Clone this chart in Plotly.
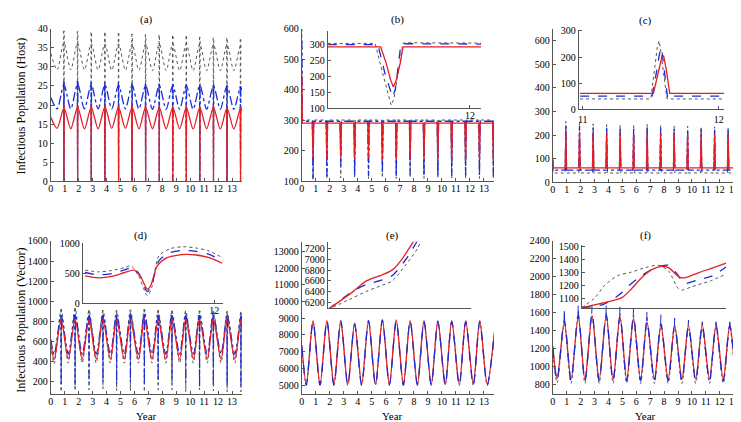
import plotly.graph_objects as go

# ---------------- data ----------------
# (a) host, seasonal model: extrema times (trough/peak) and values
a_x = [0.0, 0.45, 0.94, 1.43, 1.92, 2.41, 2.9, 3.39, 3.88, 4.37, 4.86, 5.35, 5.83, 6.32, 6.8,
       7.29, 7.78, 8.27, 8.75, 9.24, 9.72, 10.21, 10.69, 11.18, 11.67, 12.16, 12.64, 13.13, 13.61, 13.72]
a_red = [16.8, 13.9, 19.2, 13.8, 19.4, 13.8, 19.4, 13.8, 19.5, 13.9, 19.4, 13.9, 19.4, 13.8, 19.4,
         13.8, 19.3, 13.8, 19.3, 13.8, 19.3, 13.7, 19.3, 13.8, 19.3, 13.7, 19.2, 13.7, 19.1, 18.6]
a_blue = [22.0, 19.0, 25.3, 19.0, 25.5, 19.0, 25.3, 19.0, 25.3, 19.0, 25.2, 19.0, 25.2, 19.0, 25.1,
          18.9, 25.1, 18.9, 25.1, 18.9, 25.1, 18.9, 25.1, 18.9, 25.0, 18.9, 25.0, 18.9, 24.8, 24.0]
a_gray = [33.5, 29.2, 36.3, 29.2, 36.2, 29.2, 36.0, 29.2, 36.0, 29.1, 36.0, 29.1, 36.0, 29.1, 36.0,
          29.0, 36.0, 29.0, 36.0, 29.0, 36.0, 29.0, 36.0, 29.0, 35.8, 29.0, 35.8, 29.0, 35.6, 35.0]
a_spike_x = [0.94, 1.92, 2.9, 3.88, 4.86, 5.83, 6.8, 7.78, 8.75, 9.72, 10.69, 11.67, 12.64, 13.61]
a_red_spike_top = [19.8, 19.9, 19.8, 19.9, 19.8, 19.8, 19.7, 19.7, 19.7, 19.6, 19.6, 19.6, 19.5, 19.4]
a_blue_spike_top = [26.2, 26.3, 26.0, 25.9, 25.8, 25.7, 25.6, 25.5, 25.5, 25.4, 25.3, 25.3, 25.2, 25.0]
a_gray_spike_top = [39.4, 39.3, 39.0, 38.9, 38.8, 38.6, 38.5, 38.3, 38.1, 38.0, 37.8, 37.6, 37.5, 37.2]
a_spike_floor = 0.0

# (b) host
b_spike_x = [0.8, 1.79, 2.78, 3.77, 4.76, 5.75, 6.74, 7.73, 8.72, 9.71, 10.7, 11.69, 12.68, 13.67]
b_red_level, b_blue_level, b_gray_level = 291, 297, 301
b_red_start, b_blue_start, b_gray_start = 450, 560, 600
b_red_min = [175, 170, 180, 175, 178, 170, 172, 175, 170, 172, 170, 168, 170, 168]
b_blue_min = [110, 118, 150, 120, 118, 128, 115, 125, 118, 120, 118, 120, 122, 120]
b_gray_min = [105, 108, 112, 110, 110, 112, 110, 112, 110, 110, 112, 110, 110, 108]
b_in_red_x = [10.98, 11.36, 11.4, 11.43, 11.45, 11.47, 11.5, 11.52, 12.08]
b_in_red = [291, 291, 240, 190, 167, 185, 240, 291, 291]
b_in_blue_x = [10.98, 11.34, 11.39, 11.43, 11.445, 11.465, 11.49, 11.505, 11.55, 12.08]
b_in_blue = [298, 298, 210, 150, 135, 160, 240, 300, 301, 300]
b_in_gray_x = [10.98, 11.32, 11.38, 11.42, 11.435, 11.455, 11.49, 11.52, 11.56, 12.08]
b_in_gray = [302, 302, 200, 128, 110, 130, 230, 303, 304, 303]

# (c) host
c_spike_x = [0.94, 1.92, 2.9, 3.87, 4.84, 5.81, 6.78, 7.75, 8.72, 9.69, 10.66, 11.63, 12.6, 13.57]
c_red_level, c_blue_level, c_gray_level = 62, 52, 40
c_red_start, c_blue_start, c_gray_start = 100, 95, 85
c_red_top = [215, 212, 210, 208, 206, 206, 208, 206, 205, 205, 204, 203, 202, 200]
c_blue_top = [238, 240, 232, 228, 226, 228, 232, 228, 226, 225, 225, 223, 222, 220]
c_gray_top = [258, 254, 248, 245, 242, 240, 246, 243, 240, 238, 236, 235, 232, 230]
c_in_red_x = [10.98, 11.52, 11.555, 11.58, 11.595, 11.615, 11.64, 12.04]
c_in_red = [61, 61, 140, 195, 205, 150, 61, 61]
c_in_blue_x = [10.98, 11.51, 11.545, 11.568, 11.58, 11.6, 11.625, 11.66, 12.04]
c_in_blue = [51, 51, 150, 225, 235, 150, 40, 51, 51]
c_in_gray_x = [10.98, 11.5, 11.53, 11.55, 11.563, 11.59, 11.62, 12.04]
c_in_gray = [40, 40, 160, 245, 262, 150, 40, 40]

# (d) vector
d_x = [0.0, 0.24, 0.74, 1.25, 1.74, 2.25, 2.74, 3.26, 3.74, 4.27, 4.72, 5.27, 5.71, 6.28, 6.71,
       7.26, 7.7, 8.25, 8.69, 9.24, 9.68, 10.23, 10.67, 11.22, 11.66, 12.21, 12.65, 13.2, 13.64, 13.72]
d_red = [580, 420, 815, 425, 820, 425, 815, 425, 815, 425, 815, 425, 820, 425, 825,
         425, 820, 425, 820, 425, 820, 425, 820, 425, 820, 425, 815, 425, 815, 790]
d_blue = [620, 470, 860, 475, 870, 475, 860, 475, 860, 475, 860, 475, 865, 475, 870,
          475, 860, 475, 860, 475, 860, 475, 860, 475, 860, 475, 855, 475, 850, 820]
d_gray = [560, 380, 920, 385, 930, 385, 910, 385, 910, 385, 910, 385, 915, 385, 920,
          385, 910, 385, 905, 385, 905, 385, 905, 385, 900, 385, 900, 385, 895, 860]
d_blue_spike_min = [170, 160, 190, 200, 180, 200, 170, 210, 200, 190, 150, 160, 170, 150]
d_gray_spike_min = [100, 110, 120, 130, 110, 110, 100, 120, 120, 100, 120, 110, 100, 100]
d_in_red_x = [11.135, 11.226, 11.314, 11.401, 11.466, 11.51, 11.553, 11.575, 11.619, 11.684, 11.749, 11.815, 11.88, 11.967, 12.054]
d_in_red = [458, 425, 448, 514, 552, 431, 235, 293, 624, 762, 801, 818, 807, 762, 669]
d_in_blue_x = [11.135, 11.226, 11.314, 11.401, 11.455, 11.499, 11.553, 11.586, 11.629, 11.706, 11.793, 11.88, 11.967, 12.054]
d_in_blue = [514, 475, 497, 558, 597, 486, 193, 348, 707, 845, 884, 867, 818, 707]
d_in_gray_x = [11.135, 11.226, 11.314, 11.401, 11.444, 11.499, 11.553, 11.586, 11.629, 11.706, 11.793, 11.88, 11.967, 12.054]
d_in_gray = [552, 525, 547, 597, 624, 431, 127, 293, 790, 912, 945, 923, 873, 762]

# (e) vector
e_x = [0.0, 0.32, 0.8, 1.3, 1.79, 2.29, 2.78, 3.28, 3.77, 4.27, 4.76, 5.26, 5.75, 6.25, 6.74,
       7.25, 7.73, 8.25, 8.72, 9.24, 9.71, 10.24, 10.7, 11.24, 11.7, 12.24, 12.7, 13.23, 13.75]
e_red = [7400, 5050, 8850, 5050, 8850, 5050, 8800, 5050, 8700, 5050, 8850, 5050, 8900, 5050, 8900,
         5050, 8850, 5050, 8850, 5050, 8850, 5050, 8850, 5050, 8850, 5050, 8850, 5050, 8200]
e_blue = [7300, 5000, 8800, 5000, 8850, 5000, 8850, 5000, 8650, 5000, 8850, 5000, 8900, 5000, 8850,
          5000, 8850, 5000, 8800, 5000, 8800, 5000, 8800, 5000, 8800, 5000, 8800, 5000, 8150]
e_gray = [7200, 4980, 8780, 4980, 8800, 4980, 8800, 4980, 8700, 4980, 8800, 4980, 8850, 4980, 8850,
          4980, 8800, 4980, 8800, 4980, 8800, 4980, 8800, 4980, 8800, 4980, 8800, 4980, 8100]
e_in_red_x = [0.0, 0.174, 0.267, 0.382, 0.451, 0.521, 0.59, 0.62]
e_in_red = [6060, 6394, 6594, 6715, 6806, 7018, 7303, 7420]
e_in_blue_x = [0.0, 0.174, 0.267, 0.382, 0.451, 0.544, 0.614, 0.64]
e_in_blue = [6060, 6400, 6530, 6620, 6700, 7000, 7300, 7420]
e_in_gray_x = [0.0, 0.15, 0.267, 0.382, 0.451, 0.544, 0.625, 0.66]
e_in_gray = [6060, 6250, 6400, 6520, 6600, 6900, 7200, 7420]

# (f) vector
f_x = [0.0, 0.31, 0.83, 1.31, 1.83, 2.31, 2.82, 3.33, 3.84, 4.33, 4.83, 5.31, 5.8, 6.31, 6.77,
       7.3, 7.77, 8.29, 8.76, 9.28, 9.75, 10.27, 10.74, 11.26, 11.73, 12.25, 12.72, 13.24, 13.75]
f_red = [1230, 870, 1500, 860, 1560, 860, 1570, 860, 1570, 860, 1560, 860, 1540, 860, 1500,
         860, 1470, 860, 1460, 860, 1460, 860, 1470, 860, 1470, 860, 1470, 860, 1380]
f_blue = [1200, 850, 1520, 845, 1580, 845, 1590, 845, 1580, 845, 1570, 845, 1550, 845, 1510,
          845, 1480, 845, 1460, 845, 1450, 845, 1460, 845, 1460, 845, 1460, 845, 1360]
f_gray = [1150, 820, 1480, 815, 1540, 815, 1560, 815, 1560, 815, 1540, 815, 1520, 815, 1480,
          815, 1450, 815, 1430, 815, 1420, 815, 1430, 815, 1430, 815, 1430, 815, 1330]
f_blue_spike_top = [1660, 1700, 1690, 1690, 1680, 1660, 1630, 1580, 1540, 1520, 1500, 1500, 1500]
f_in_red_x = [0.0, 0.186, 0.278, 0.347, 0.416, 0.485, 0.554, 0.6, 0.68, 0.715, 0.807, 0.899, 1.0]
f_in_red = [1034, 1080, 1110, 1180, 1265, 1325, 1350, 1340, 1265, 1262, 1300, 1335, 1375]
f_in_blue_x = [0.0, 0.15, 0.26, 0.33, 0.4, 0.47, 0.55, 0.6, 0.66, 0.71, 0.8, 0.9, 1.0]
f_in_blue = [1034, 1058, 1132, 1205, 1267, 1316, 1353, 1358, 1291, 1220, 1245, 1275, 1345]
f_in_gray_x = [0.0, 0.09, 0.16, 0.25, 0.34, 0.44, 0.53, 0.6, 0.668, 0.7, 0.76, 0.9, 1.0]
f_in_gray = [1034, 1107, 1205, 1279, 1304, 1340, 1358, 1316, 1181, 1169, 1193, 1242, 1291]

year_ticks = list(range(14))

# ---------------- styling / layout ----------------
W, H = 741, 422
RED = 'rgb(230,30,36)'
BLUE = 'rgb(25,45,215)'
GRAY = 'rgb(85,85,85)'
FONT = 'Liberation Serif'

fig = go.Figure()
layout = dict(width=W, height=H, margin=dict(l=0, r=0, t=0, b=0),
              paper_bgcolor='white', plot_bgcolor='rgba(0,0,0,0)', showlegend=False,
              font=dict(family=FONT, size=10, color='black'))


def dom_x(p0, p1):
    return [p0 / W, p1 / W]


def dom_y(top, bottom):
    return [1 - bottom / H, 1 - top / H]


def axes(i, xd, yd, xr, yr, xt, yt, xstand=-2):
    sfx = '' if i == 1 else str(i)
    common = dict(showline=True, linecolor='#555', linewidth=1, mirror=False,
                  ticks='inside', ticklen=3, tickcolor='#555', showgrid=False,
                  zeroline=False, tickfont=dict(family=FONT, size=10, color='black'),
                  ticklabeloverflow='allow')
    layout['xaxis' + sfx] = dict(domain=xd, range=xr, tickvals=xt, tickformat='d',
                                 anchor='y' + sfx, ticklabelstandoff=xstand, **common)
    layout['yaxis' + sfx] = dict(domain=yd, range=yr, tickvals=yt, tickformat='d',
                                 anchor='x' + sfx, **common)


def line(i, x, y, color, dash='solid', width=1.2, shape='spline'):
    sfx = '' if i == 1 else str(i)
    fig.add_trace(go.Scatter(x=x, y=y, mode='lines', xaxis='x' + sfx, yaxis='y' + sfx,
                             line=dict(color=color, dash=dash, width=width, shape=shape,
                                       smoothing=0.8 if shape == 'spline' else None),
                             hoverinfo='skip'))


def spikes(i, xs, tops, bots, color, dash='solid', width=1.2):
    X, Y = [], []
    for k, s in enumerate(xs):
        b = bots[k] if isinstance(bots, list) else bots
        X += [s - 0.02, s, s + 0.02, None]
        Y += [tops[k], b, tops[k], None]
    line(i, X, Y, color, dash, width, 'linear')


def flat_with_spikes(i, start, level, xs, ext, xend, color, dash, width=1.2):
    X = [0.0, 0.04]
    Y = [start, level]
    for k, s in enumerate(xs):
        X += [s - 0.05, s, s + 0.05]
        Y += [level, ext[k], level]
    X.append(xend)
    Y.append(level)
    line(i, X, Y, color, dash, width, 'linear')


# main axes
axes(1, dom_x(40, 232), dom_y(16, 173), [0, 13.72], [0, 40], year_ticks, list(range(0, 41, 5)))
axes(2, dom_x(292, 485), dom_y(16, 173), [0, 13.72], [100, 600], year_ticks, list(range(100, 601, 100)))
axes(3, dom_x(544, 741), dom_y(16, 174), [0, 14.1], [0, 650], year_ticks, list(range(0, 601, 100)))
axes(4, dom_x(40, 232), dom_y(234, 391), [0, 13.72], [80, 1600], year_ticks, list(range(200, 1601, 200)))
axes(5, dom_x(292, 485), dom_y(235, 391), [0, 13.72], [4480, 13570], year_ticks, list(range(5000, 13001, 1000)))
axes(6, dom_x(544, 741), dom_y(234, 391), [0, 14.1], [700, 2400], year_ticks, list(range(800, 2401, 200)))
# insets
axes(7, dom_x(318, 472), dom_y(18, 98), [10.98, 12.08], [100, 342], [12], list(range(100, 301, 50)))
axes(8, dom_x(570, 716), dom_y(17, 99), [10.97, 12.04], [0, 305], [11, 12], [0, 100, 200, 300], 1)
axes(9, dom_x(72, 213), dom_y(236, 298), [11.12, 12.06], [0, 1010], [12], [0, 500, 1000])
axes(10, dom_x(318, 462), dom_y(235, 303), [0, 1], [6090, 7330], [], list(range(6200, 7201, 200)))
axes(11, dom_x(573, 718), dom_y(238, 303), [0, 1], [1030, 1515], [], list(range(1100, 1501, 100)))

# (a)
spikes(1, a_spike_x, a_gray_spike_top, a_spike_floor, GRAY, 'dot', 1)
spikes(1, a_spike_x, a_blue_spike_top, a_spike_floor, BLUE, 'dashdot', 1.2)
spikes(1, a_spike_x, a_red_spike_top, a_spike_floor, RED, 'solid', 1.2)
line(1, a_x, a_gray, GRAY, 'dot', 1)
line(1, a_x, a_blue, BLUE, 'dashdot', 1.3)
line(1, a_x, a_red, RED, 'solid', 1.3)

# (b)
flat_with_spikes(2, b_gray_start, b_gray_level, b_spike_x, b_gray_min, 13.72, GRAY, 'dot', 1)
flat_with_spikes(2, b_blue_start, b_blue_level, b_spike_x, b_blue_min, 13.72, BLUE, 'dashdot', 1.3)
flat_with_spikes(2, b_red_start, b_red_level, b_spike_x, b_red_min, 13.72, RED, 'solid', 1.3)
line(7, b_in_gray_x, b_in_gray, GRAY, 'dot', 1, 'linear')
line(7, b_in_blue_x, b_in_blue, BLUE, 'dash', 1.3, 'linear')
line(7, b_in_red_x, b_in_red, RED, 'solid', 1.3, 'linear')

# (c)
flat_with_spikes(3, c_gray_start, c_gray_level, c_spike_x, c_gray_top, 14.1, GRAY, 'dot', 1)
flat_with_spikes(3, c_blue_start, c_blue_level, c_spike_x, c_blue_top, 14.1, BLUE, 'dashdot', 1.3)
flat_with_spikes(3, c_red_start, c_red_level, c_spike_x, c_red_top, 14.1, RED, 'solid', 1.3)
line(8, c_in_gray_x, c_in_gray, GRAY, 'dot', 1, 'linear')
line(8, c_in_blue_x, c_in_blue, BLUE, 'dash', 1.3, 'linear')
line(8, c_in_red_x, c_in_red, RED, 'solid', 1.3, 'linear')

# (d)
d_peak_x = d_x[2:29:2]
spikes(4, d_peak_x, d_gray[2:29:2], d_gray_spike_min, GRAY, 'dot', 1)
spikes(4, d_peak_x, d_blue[2:29:2], d_blue_spike_min, BLUE, 'dashdot', 1.2)
line(4, d_x, d_gray, GRAY, 'dot', 1)
line(4, d_x, d_blue, BLUE, 'dashdot', 1.3)
line(4, d_x, d_red, RED, 'solid', 1.3)
line(9, d_in_gray_x, d_in_gray, GRAY, 'dot', 1)
line(9, d_in_blue_x, d_in_blue, BLUE, 'dash', 1.3)
line(9, d_in_red_x, d_in_red, RED, 'solid', 1.3)

# (e)
line(5, e_x, e_gray, GRAY, 'dot', 1)
line(5, e_x, e_red, RED, 'solid', 1.3)
line(5, e_x, e_blue, BLUE, 'dash', 1.3)
line(10, e_in_gray_x, e_in_gray, GRAY, 'dot', 1)
line(10, e_in_blue_x, e_in_blue, BLUE, 'dash', 1.3)
line(10, e_in_red_x, e_in_red, RED, 'solid', 1.3)

# (f)
f_peak_x = f_x[2:27:2]
spikes(6, f_peak_x, f_blue[2:27:2], f_blue_spike_top, BLUE, 'dash', 1.0)
line(6, f_x, f_gray, GRAY, 'dot', 1)
line(6, f_x, f_red, RED, 'solid', 1.3)
line(6, f_x, f_blue, BLUE, 'dash', 1.3)
line(11, f_in_gray_x, f_in_gray, GRAY, 'dot', 1)
line(11, f_in_blue_x, f_in_blue, BLUE, 'dash', 1.3)
line(11, f_in_red_x, f_in_red, RED, 'solid', 1.3)

# texts
ann = []


def text(px, py, s, size=11, angle=0):
    ann.append(dict(x=px / W, y=1 - py / H, xref='paper', yref='paper', text=s, showarrow=False,
                    textangle=angle, font=dict(family=FONT, size=size, color='black'),
                    xanchor='center', yanchor='middle'))


text(136, 7, '(a)')
text(388, 7, '(b)')
text(637, 8, '(c)')
text(130, 228, '(d)')
text(383, 228, '(e)')
text(637, 228, '(f)')
text(10, 95, 'Infectious Population (Host)', 12, -90)
text(10, 315, 'Infectious Population (Vector)', 12, -90)
text(136, 414, 'Year', 11)
text(383, 414, 'Year', 11)
text(637, 414, 'Year', 11)
layout['annotations'] = ann

fig.update_layout(**layout)
fig.write_html('out.html')
